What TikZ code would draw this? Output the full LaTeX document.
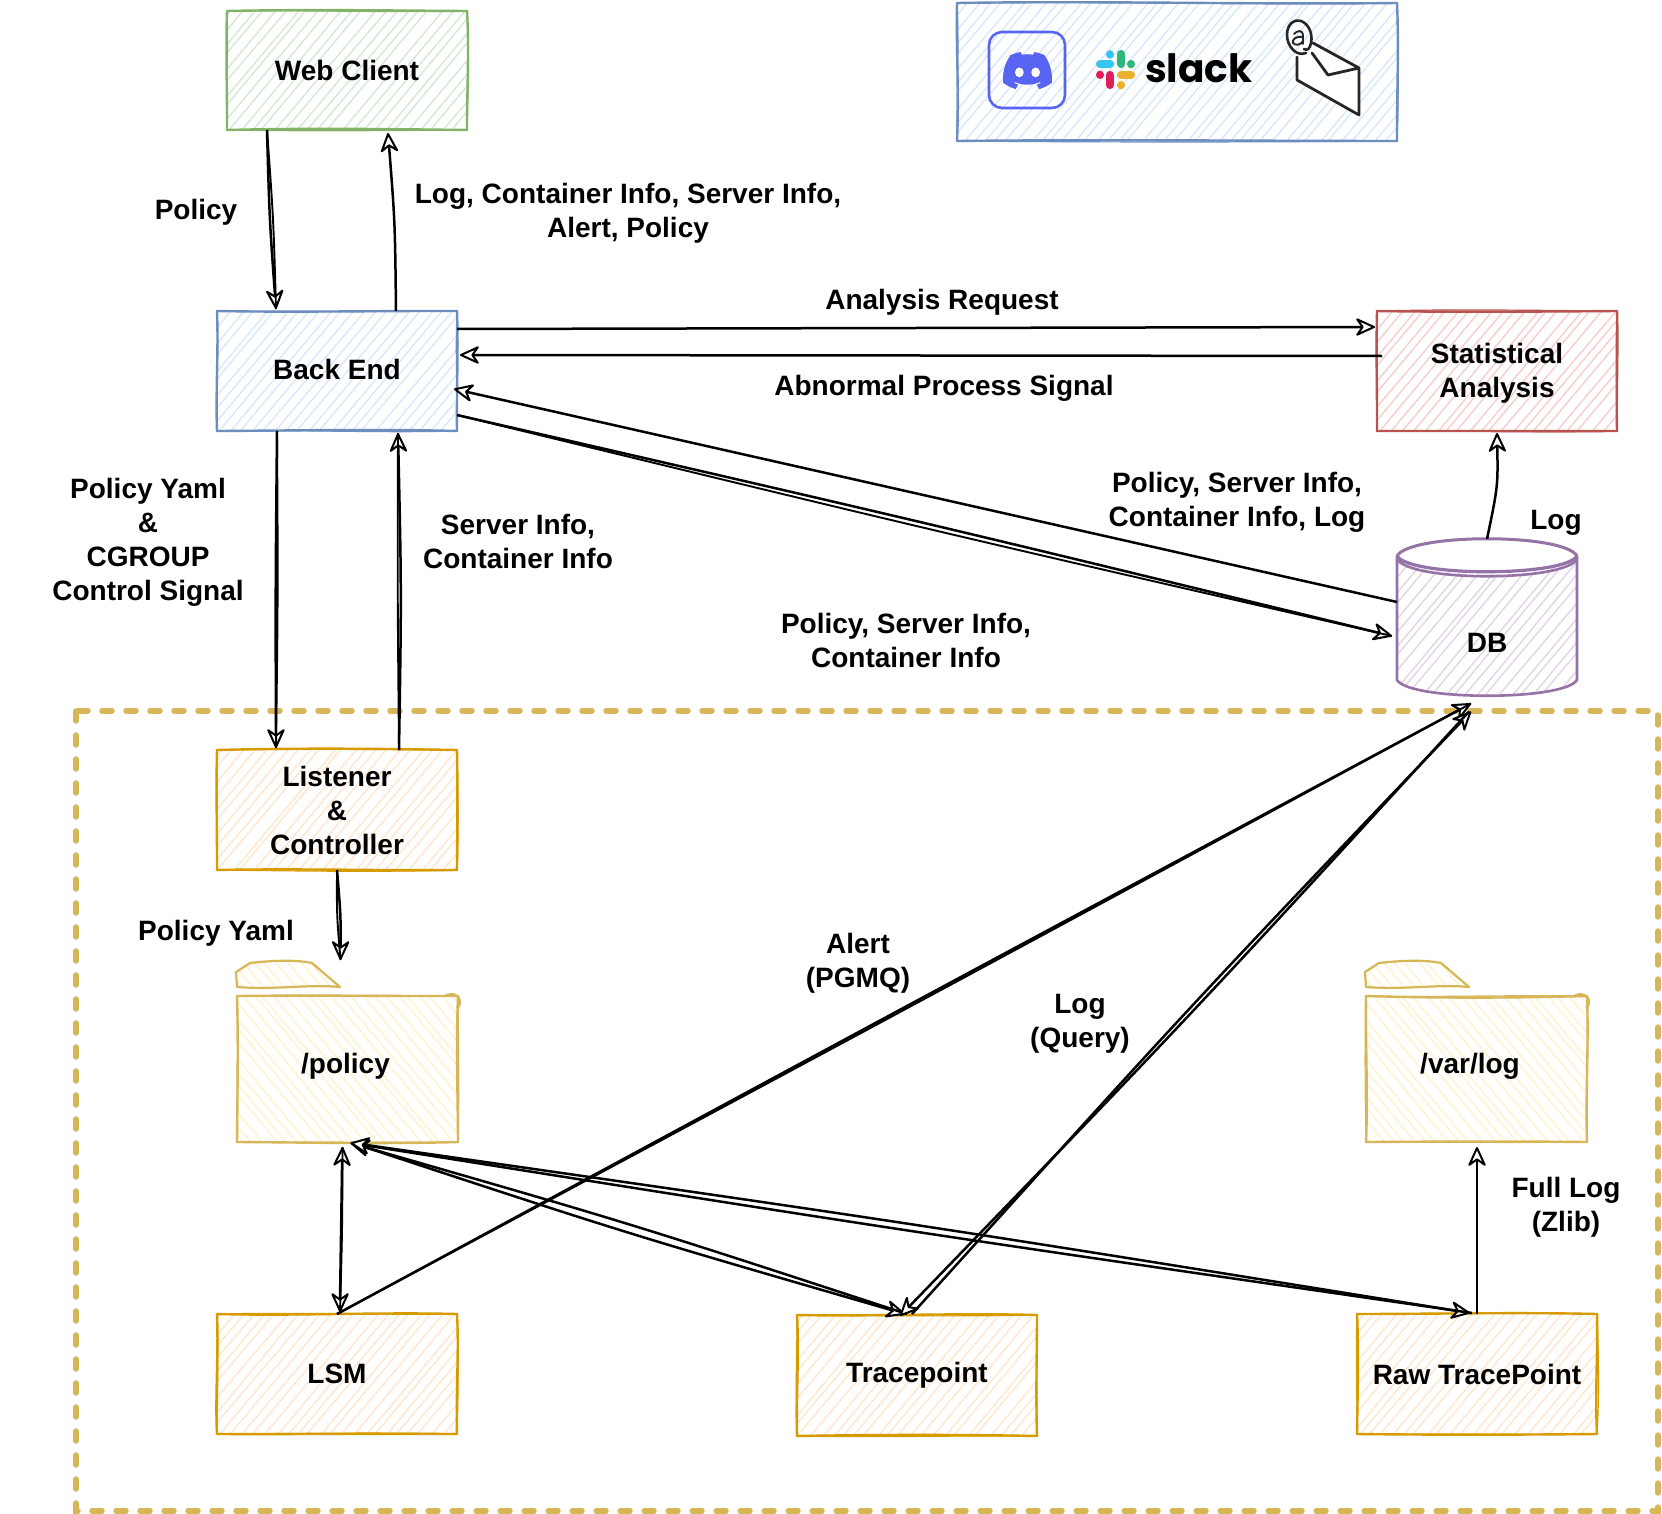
\documentclass[tikz,border=0pt]{standalone}
\usepackage{fontspec}
\setmainfont{Liberation Sans}
\newfontfamily\slackfont{Poppins}
\usetikzlibrary{arrows.meta,calc}
\definecolor{gS}{HTML}{82B366}\definecolor{gF}{HTML}{D5E8D4}
\definecolor{bS}{HTML}{6C8EBF}\definecolor{bF}{HTML}{DAE8FC}
\definecolor{rS}{HTML}{B85450}\definecolor{rF}{HTML}{F8CECC}
\definecolor{oS}{HTML}{D79B00}\definecolor{oF}{HTML}{FFE6CC}
\definecolor{yS}{HTML}{D6B656}\definecolor{yF}{HTML}{FFF2CC}
\definecolor{pS}{HTML}{9673A6}\definecolor{pF}{HTML}{E1D5E7}
\definecolor{discord}{HTML}{5865F2}
\tikzset{
  x=1pt,y=-1pt,
  lbl/.style={font=\fontsize{28}{34}\selectfont\bfseries,align=center,inner sep=0pt,text=black},
  boxnode/.style={lbl,outer sep=0pt},
  tipshape/.tip={Stealth[length=22pt,width=20pt,inset=7pt,fill=white,line join=round,line width=2pt]},
  arr/.style={line width=2.5pt,black,line join=round,-tipshape},
  dualarr/.style={line width=2.5pt,black,line join=round,tipshape-tipshape},
  lnk/.style={line width=1.9pt,black},
}
\newcommand\hach[4]{%
  \begin{scope}[shift={(#1,#2)},rotate=#3]
    \foreach \i in {-30,...,30}{
      \draw[#4,line width=1.4pt] (-300,{\i*8.5+rand*3}) -- (300,{\i*8.5+rand*3});
    }
  \end{scope}}
\newcommand\skedge[5]{\draw[#1,line cap=round] (#2,#3) .. controls ({#2+(#4-#2)*.33+rand*2.4},{#3+(#5-#3)*.33+rand*2.4}) and ({#2+(#4-#2)*.67+rand*2.4},{#3+(#5-#3)*.67+rand*2.4}) .. (#4,#5);}
\newcommand\skrect[5]{%
  \skedge{#1,line width=2.4pt}{#2}{#3}{#4}{#3}\skedge{#1,line width=2.4pt}{#4}{#3}{#4}{#5}%
  \skedge{#1,line width=2.4pt}{#4}{#5}{#2}{#5}\skedge{#1,line width=2.4pt}{#2}{#5}{#2}{#3}%
  \skedge{#1,line width=1.2pt}{#2}{#3}{#4}{#3}\skedge{#1,line width=1.2pt}{#4}{#3}{#4}{#5}%
  \skedge{#1,line width=1.2pt}{#4}{#5}{#2}{#5}\skedge{#1,line width=1.2pt}{#2}{#5}{#2}{#3}}
% name x1 y1 x2 y2 stroke hachure angle text
\newcommand\skbox[9]{%
  \pgfmathsetmacro\cx{(#2+#4)/2}\pgfmathsetmacro\cy{(#3+#5)/2}%
  \pgfmathsetmacro\bw{#4-#2}\pgfmathsetmacro\bh{#5-#3}%
  \begin{scope}
    \clip (#2,#3) rectangle (#4,#5);
    \hach{\cx}{\cy}{#8}{#7}
  \end{scope}
  \node[boxnode,minimum width=\bw pt,minimum height=\bh pt] (#1) at (\cx,\cy) {#9};
  \skrect{#6}{#2}{#3}{#4}{#5}}
% style, from, to, offset of the curve's middle control point
\newcommand\bowed[5]{\draw[#1] #2 .. controls ($#2!.5!#3+(#4,#5)$) .. #3;}
\newcommand\foldertab[3]{% x-left colour hach
  \begin{scope}
    \clip (#1-1,972) -- (#1+13,963) -- (#1+75,962) -- (#1+103,987) -- (#1,987) -- cycle;
    \hach{#1+50}{975}{-50}{yF}
  \end{scope}
  \draw[#2,line width=2.2pt,line join=round] (#1,987) -- (#1-1,972) -- (#1+13,963) .. controls (#1+40,960) and (#1+60,960) .. (#1+75,963) -- (#1+103,987) .. controls (#1+70,984) and (#1+40,990) .. (#1,987) -- cycle;
}
\begin{document}
\begin{tikzpicture}
\pgfmathsetseed{11}
\useasboundingbox (0,0) rectangle (1662,1514);
\fill[white] (0,0) rectangle (1662,1514);

% dashed container
\draw[yS,line width=5.4pt,line cap=round,dash pattern=on 10pt off 14pt] (76,711) rectangle (1658,1511);

% boxes
\skbox{web}{227}{11}{467}{130}{gS}{gF}{50}{Web Client}
\skbox{notif}{957}{3}{1397}{141}{bS}{bF}{50}{}
\skbox{back}{217}{311}{457}{431}{bS}{bF}{50}{\raisebox{3pt}{Back End}}
\skbox{stat}{1377}{311}{1617}{431}{rS}{rF}{50}{\rule{0pt}{25pt}Statistical\\Analysis}
\skbox{lis}{217}{750}{457}{870}{oS}{oF}{50}{Listener\\\&\\Controller}
\skbox{lsm}{217}{1314}{457}{1434}{oS}{oF}{50}{LSM}
\skbox{tp}{797}{1315}{1037}{1436}{oS}{oF}{50}{Tracepoint}
\skbox{raw}{1357}{1314}{1597}{1434}{oS}{oF}{50}{Raw TracePoint}

% folders
\foldertab{237}{yS}{yF}
\skbox{pol}{237}{996}{458}{1142}{yS}{yF}{-50}{\rule[-12pt]{0pt}{1pt}/policy\hspace{4pt}}
\draw[yS,line width=2.2pt] (445,996) .. controls (452,992) and (460,995) .. (460,1002) .. controls (460,1005) and (459,1007) .. (457,1008);
\foldertab{1366}{yS}{yF}
\skbox{var}{1366}{996}{1587}{1142}{yS}{yF}{-50}{\rule[-12pt]{0pt}{1pt}/var/log\hspace{13pt}}
\draw[yS,line width=2.2pt] (1574,996) .. controls (1581,992) and (1589,995) .. (1589,1002) .. controls (1589,1005) and (1588,1007) .. (1586,1008);

% database cylinder
\begin{scope}
  \clip (1397,556) arc[start angle=180,end angle=0,x radius=90,y radius=18] -- (1577,680) arc[start angle=0,end angle=180,x radius=90,y radius=17] -- cycle;
  \hach{1487}{617}{50}{pF}
\end{scope}
\node[boxnode,minimum width=180pt,minimum height=107pt] (db) at (1487,643) {DB};
\draw[pS,line width=2.6pt] (1397,556) -- (1397,680) .. controls (1410,701) and (1564,701) .. (1577,680) -- (1577,556);
\draw[pS,line width=3pt] (1397,556) .. controls (1410,533) and (1564,533) .. (1577,556);
\draw[pS,line width=3.2pt] (1397,556) .. controls (1410,577) and (1564,577) .. (1577,556);
\draw[pS,line width=2.6pt] (1397,559) .. controls (1410,582) and (1564,582) .. (1577,559);

% discord icon
\draw[discord,line width=2.6pt,rounded corners=13pt] (989,32) rectangle (1065,108);
\begin{scope}[shift={(1003,52)},x=0.385pt,y=-0.385pt]
  \fill[discord] (107.7,8.07) .. controls (99.5,4.3) and (90.7,1.5) .. (81.47,0) .. controls (80.2,2.2) and (79.1,4.5) .. (78.11,6.83) .. controls (68.4,5.4) and (58.7,5.4) .. (49,6.83) .. controls (48,4.5) and (46.9,2.2) .. (45.64,0) .. controls (36.5,1.5) and (27.6,4.3) .. (19.39,8.09) .. controls (2.79,32.65) and (-1.71,56.6) .. (0.54,80.21) .. controls (10,87.2) and (21,92.7) .. (32.71,96.36) .. controls (35.3,92.8) and (37.6,89.1) .. (39.6,85.25) .. controls (35.8,83.8) and (32.2,82.1) .. (28.75,80.07) .. controls (29.66,79.41) and (30.55,78.73) .. (31.41,78.07) .. controls (51.9,87.4) and (75.3,87.4) .. (95.73,78.07) .. controls (96.6,78.78) and (97.49,79.46) .. (98.39,80.07) .. controls (94.9,82.1) and (91.3,83.8) .. (87.52,85.26) .. controls (89.5,89.1) and (91.8,92.8) .. (94.41,96.36) .. controls (106.1,92.8) and (117.1,87.3) .. (126.6,80.22) .. controls (129.24,52.84) and (122.09,29.11) .. (107.7,8.07) -- cycle;
  \fill[white] (42.45,53) ellipse[x radius=11.4,y radius=12.7];
  \fill[white] (84.69,53) ellipse[x radius=11.4,y radius=12.7];
\end{scope}

% slack mark
\begin{scope}[line cap=round,line width=8.2pt]
  \draw[color={rgb,255:red,54;green,197;blue,240}] (1100,64) -- (1110,64);
  \draw[color={rgb,255:red,54;green,197;blue,240}] (1110,54.3) -- (1110,54.5);
  \draw[color={rgb,255:red,46;green,182;blue,125}] (1121,54) -- (1121,64);
  \draw[color={rgb,255:red,46;green,182;blue,125}] (1131,64) -- (1131,64.2);
  \draw[color={rgb,255:red,224;green,30;blue,90}] (1110,75) -- (1110,85);
  \draw[color={rgb,255:red,224;green,30;blue,90}] (1100,74.7) -- (1100,74.9);
  \draw[color={rgb,255:red,236;green,178;blue,46}] (1121,75) -- (1131,75);
  \draw[color={rgb,255:red,236;green,178;blue,46}] (1121,85) -- (1121,85.2);
\end{scope}
\node[inner sep=0pt,anchor=base west,font=\fontsize{39}{40}\slackfont\bfseries] (slack) at (1145,83) {slack};

% mail icon
\fill[white] (1297,57) -- (1297,80) -- (1359,115) -- (1359,68) -- (1313,43) -- cycle;
\draw[black!85,line width=2.8pt,line join=round,line cap=round]
  (1297,57) -- (1297,80) -- (1359,115) -- (1359,68) -- (1313,43)
  (1312,53) -- (1328,75) -- (1359,68);
\draw[black!85,line width=2.6pt,line cap=round] (1306,53) .. controls (1296,57) and (1287,46) .. (1287,35) .. controls (1287,24) and (1294,19) .. (1301,21) .. controls (1309,24) and (1313,34) .. (1311,43) .. controls (1310,49) and (1307,51) .. (1304,49);
\draw[black!85,line width=1.9pt,line cap=round,line join=round] (1294,34) .. controls (1297,30) and (1303,30) .. (1303,35) -- (1303,44)
  (1303,37) .. controls (1296,36) and (1292,39) .. (1293,43) .. controls (1295,46) and (1301,45) .. (1303,41);

% connectors
\bowed{arr}{([xshift=-80pt]web.south)}{([xshift=-61pt,yshift=2pt]back.north)}{-2}{0}
\bowed{lnk}{([xshift=-80pt]web.south)}{([xshift=-61pt,yshift=2pt]back.north)}{2}{0}
\bowed{arr}{([xshift=59pt]back.north)}{([xshift=41pt,yshift=-3pt]web.south)}{3}{0}
\draw[arr] ([yshift=42pt]back.east) -- ([xshift=-2pt,yshift=44pt]stat.west);
\draw[arr] ([xshift=5pt,yshift=15pt]stat.west) -- ([xshift=3pt,yshift=16pt]back.east);
\draw[arr] ([yshift=41pt]db.west) -- ([xshift=-3pt,yshift=-18pt]back.east);
\bowed{arr}{([yshift=-44pt]back.east)}{([xshift=-5pt,yshift=7pt]db.west)}{1}{-3}
\bowed{lnk}{([yshift=-44pt]back.east)}{([xshift=-5pt,yshift=7pt]db.west)}{-1}{3}
\bowed{arr}{([xshift=-60pt]back.south)}{([xshift=-61pt,yshift=2pt]lis.north)}{-1}{0}
\bowed{lnk}{([xshift=-60pt]back.south)}{([xshift=-61pt,yshift=2pt]lis.north)}{1.5}{0}
\bowed{arr}{([xshift=62pt]lis.north)}{([xshift=61pt,yshift=-2pt]back.south)}{3}{0}
\bowed{lnk}{([xshift=62pt]lis.north)}{([xshift=61pt,yshift=-2pt]back.south)}{-1}{0}
\bowed{arr}{(lis.south)}{([xshift=-7pt,yshift=36pt]pol.north)}{2}{0}
\bowed{lnk}{(lis.south)}{([xshift=-7pt,yshift=36pt]pol.north)}{-2}{0}
\bowed{arr}{([yshift=104pt]db.center)}{([yshift=-2pt]stat.south)}{6}{0}
\bowed{dualarr}{([xshift=3pt,yshift=2pt]lsm.north)}{([xshift=-5pt,yshift=-5pt]pol.south)}{-1}{0}
\bowed{lnk}{([xshift=3pt,yshift=2pt]lsm.north)}{([xshift=-5pt,yshift=-5pt]pol.south)}{1}{0}
\bowed{arr}{([xshift=5pt,yshift=-1pt]pol.south)}{([xshift=-12pt,yshift=1pt]tp.north)}{-2}{5}
\bowed{arr}{([xshift=-10pt,yshift=1pt]tp.north)}{([xshift=3pt,yshift=-1pt]pol.south)}{2}{-5}
\bowed{arr}{([xshift=5pt,yshift=-1pt]pol.south)}{([xshift=-7pt,yshift=1pt]raw.north)}{0}{-5}
\bowed{arr}{([xshift=-5pt,yshift=1pt]raw.north)}{([xshift=3pt,yshift=-1pt]pol.south)}{0}{4}
\bowed{arr}{(lsm.north)}{([xshift=-16pt,yshift=-7pt]db.south)}{-1}{-1}
\bowed{lnk}{(lsm.north)}{([xshift=-16pt,yshift=-7pt]db.south)}{1}{1}
\bowed{arr}{([xshift=-5pt,yshift=1pt]tp.north)}{([xshift=-16pt,yshift=-15pt]db.south)}{-4}{-4}
\bowed{arr}{([xshift=-18pt,yshift=-15pt]db.south)}{([xshift=-17pt,yshift=-1pt]tp.north)}{4}{4}
\bowed{arr}{(raw.north)}{([xshift=.5pt,yshift=-5pt]var.south)}{0}{0}

% labels
\node[lbl] (l1) at (196,212) {Policy};
\node[lbl] (l2) at (628,213) {Log, Container Info, Server Info,\\Alert, Policy};
\node[lbl] (l3) at (942,302) {Analysis Request};
\node[lbl] (l4) at (944,388) {Abnormal Process Signal};
\node[lbl] (l5) at (148,542) {Policy Yaml\\\&\\CGROUP\\Control Signal};
\node[lbl] (l6) at (518,541) {Server Info,\\Container Info};
\node[lbl] (l7) at (1237,502) {Policy, Server Info,\\Container Info, Log};
\node[lbl] (l8) at (1556,523) {Log};
\node[lbl] (l9) at (906,640) {Policy, Server Info,\\Container Info};
\node[lbl] (l10) at (216,933) {Policy Yaml};
\node[lbl] (l11) at (858,963) {Alert\\(PGMQ)};
\node[lbl] (l12) at (1080,1024) {Log\\(Query)};
\node[lbl] (l13) at (1566,1207) {Full Log\\(Zlib)};
\end{tikzpicture}
\end{document}
